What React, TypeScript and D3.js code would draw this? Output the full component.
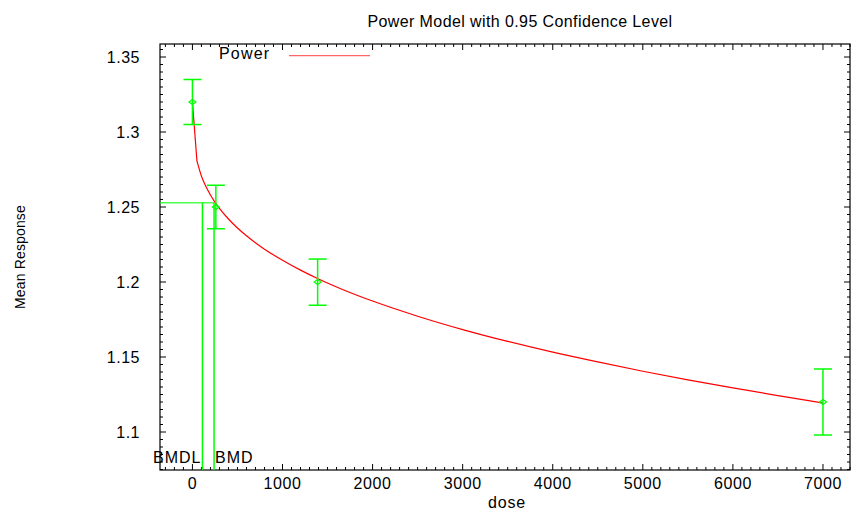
import React from 'react';
import * as d3 from 'd3';

// observed dose groups, mean response and 95% CI bounds
const doses = [0, 260, 1390, 7000];
const means = [1.32, 1.25, 1.2, 1.12];
const lowerCI = [1.305, 1.2355, 1.1845, 1.098];
const upperCI = [1.335, 1.2645, 1.2153, 1.142];

// fitted power model curve
const curveDose = [0, 50, 100, 150, 200, 250, 300, 400, 500, 600, 800, 1000, 1200, 1400, 1700, 2000, 2500, 3000, 3500, 4000, 4500, 5000, 5500, 6000, 6500, 7000];
const curveResp = [1.32, 1.2807, 1.2706, 1.2636, 1.258, 1.2532, 1.2491, 1.242, 1.236, 1.2308, 1.2219, 1.2145, 1.2079, 1.202, 1.1942, 1.1873, 1.1772, 1.1683, 1.1604, 1.1532, 1.1467, 1.1405, 1.1348, 1.1294, 1.1243, 1.1193];

const bmdl = 111;
const bmd = 240;
const bmr = 1.2529;

const xTicks = [0, 1000, 2000, 3000, 4000, 5000, 6000, 7000];
const yTicks = [1.1, 1.15, 1.2, 1.25, 1.3, 1.35];

const W = 853;
const H = 512;
const left = 160, right = 850, top = 44, bottom = 470;
const font = 'Liberation Sans, Arial, Helvetica, sans-serif';
const green = '#00ff00';

export default function App() {
  const x = d3.scaleLinear().domain([-360, 7300]).range([left, right]);
  const y = d3.scaleLinear().domain([1.07467, 1.35867]).range([bottom, top]);

  const xMinor = d3.range(-300, 7301, 100).filter((v) => v % 1000 !== 0);
  const yMinor = d3.range(1075, 1356, 5).map((v) => v / 1000).filter((v) => Math.round(v * 1000) % 50 !== 0);

  const line = d3.line<number>().x((d, i) => x(curveDose[i])).y((d) => y(d));
  const firstSeg = line.curve(d3.curveLinear)(curveResp.slice(0, 2)) || '';
  const restLine = d3.line<number>()
    .x((d, i) => x(curveDose[i + 1]))
    .y((d) => y(d))
    .curve(d3.curveMonotoneX)(curveResp.slice(1)) || '';

  const tickStyle = { stroke: '#000', strokeWidth: 1 };

  return (
    <svg width={W} height={H} style={{ position: 'absolute', left: 0, top: 0, background: '#fff' }}>
      <text x={520} y={27} textAnchor="middle" fontFamily={font} fontSize={16} letterSpacing={0.4}>
        Power Model with 0.95 Confidence Level
      </text>

      {/* frame */}
      <rect x={left} y={top} width={right - left} height={bottom - top} fill="none" stroke="#000" strokeWidth={1.2} />

      {/* x ticks */}
      {xTicks.map((t) => (
        <g key={'xt' + t}>
          <line x1={x(t)} x2={x(t)} y1={bottom} y2={bottom - 6} {...tickStyle} />
          <line x1={x(t)} x2={x(t)} y1={top} y2={top + 6} {...tickStyle} />
          <text x={x(t)} y={489} textAnchor="middle" fontFamily={font} fontSize={16} letterSpacing={0.6}>{t}</text>
        </g>
      ))}
      {xMinor.map((t) => (
        <g key={'xm' + t}>
          <line x1={x(t)} x2={x(t)} y1={bottom} y2={bottom - 3} {...tickStyle} />
          <line x1={x(t)} x2={x(t)} y1={top} y2={top + 3} {...tickStyle} />
        </g>
      ))}

      {/* y ticks */}
      {yTicks.map((t) => (
        <g key={'yt' + t}>
          <line x1={left} x2={left + 6} y1={y(t)} y2={y(t)} {...tickStyle} />
          <line x1={right} x2={right - 6} y1={y(t)} y2={y(t)} {...tickStyle} />
          <text x={140} y={y(t) + 6} textAnchor="end" fontFamily={font} fontSize={16} letterSpacing={0.5}>{String(t)}</text>
        </g>
      ))}
      {yMinor.map((t) => (
        <g key={'ym' + t}>
          <line x1={left} x2={left + 3} y1={y(t)} y2={y(t)} {...tickStyle} />
          <line x1={right} x2={right - 3} y1={y(t)} y2={y(t)} {...tickStyle} />
        </g>
      ))}

      {/* axis titles */}
      <text x={507} y={508} textAnchor="middle" fontFamily={font} fontSize={16} letterSpacing={0.8}>dose</text>
      <text transform="translate(25,257) rotate(-90)" textAnchor="middle" fontFamily={font} fontSize={14} letterSpacing={0.15}>
        Mean Response
      </text>

      {/* BMD / BMDL markers */}
      <line x1={left} x2={x(bmd)} y1={y(bmr)} y2={y(bmr)} stroke={green} strokeWidth={1.5} opacity={0.7} />
      <line x1={x(bmdl)} x2={x(bmdl)} y1={y(bmr)} y2={bottom} stroke={green} strokeWidth={1.5} />
      <line x1={x(bmd)} x2={x(bmd)} y1={y(bmr)} y2={bottom} stroke={green} strokeWidth={1.5} />
      <text x={x(bmdl) - 1} y={463} textAnchor="end" fontFamily={font} fontSize={16} letterSpacing={1}>BMDL</text>
      <text x={x(bmd) + 1} y={463} fontFamily={font} fontSize={16} letterSpacing={1}>BMD</text>

      {/* model curve */}
      <path d={firstSeg} fill="none" stroke="#ff0000" strokeWidth={1.2} />
      <path d={restLine} fill="none" stroke="#ff0000" strokeWidth={1.2} />

      {/* error bars and means */}
      {doses.map((d, i) => {
        const cx = x(d);
        return (
          <g key={'eb' + i} stroke={green} strokeWidth={1.5} fill="none">
            <line x1={cx} x2={cx} y1={y(lowerCI[i])} y2={y(upperCI[i])} />
            <line x1={cx - 9} x2={cx + 9} y1={y(upperCI[i])} y2={y(upperCI[i])} />
            <line x1={cx - 9} x2={cx + 9} y1={y(lowerCI[i])} y2={y(lowerCI[i])} />
            <path d={`M${cx - 3.5},${y(means[i])} L${cx},${y(means[i]) - 2.5} L${cx + 3.5},${y(means[i])} L${cx},${y(means[i]) + 2.5} Z`} strokeWidth={1.2} />
          </g>
        );
      })}

      {/* legend */}
      <text x={219} y={59} fontFamily={font} fontSize={16} letterSpacing={1.2}>Power</text>
      <line x1={289} x2={370} y1={55.7} y2={55.7} stroke="#ff0000" strokeWidth={1.3} opacity={0.6} />
    </svg>
  );
}
